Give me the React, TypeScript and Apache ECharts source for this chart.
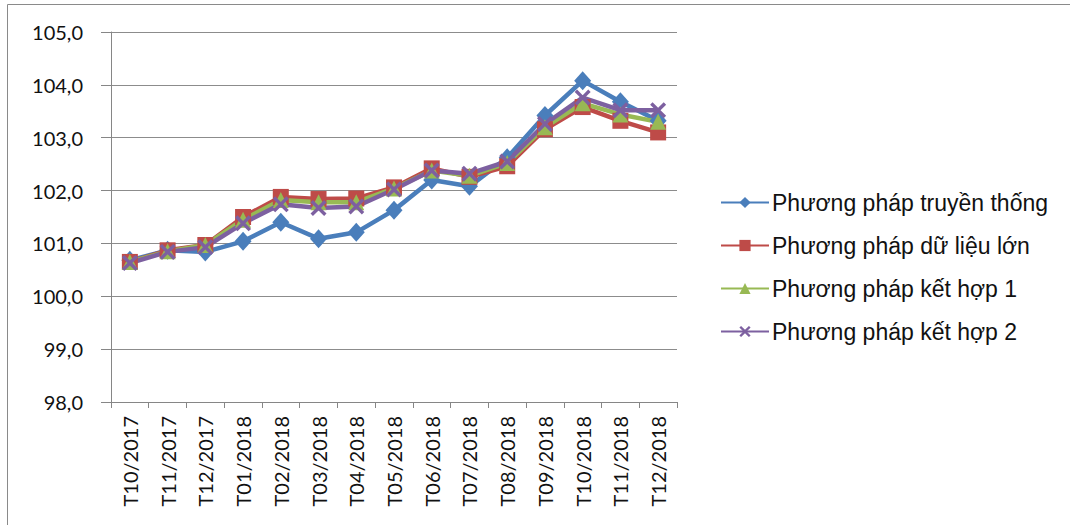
import React, { useEffect, useRef } from "react";
import * as echarts from "echarts";

const categories = [
  "T10/2017", "T11/2017", "T12/2017", "T01/2018", "T02/2018", "T03/2018", "T04/2018",
  "T05/2018", "T06/2018", "T07/2018", "T08/2018", "T09/2018", "T10/2018", "T11/2018", "T12/2018",
];

const truyenThong = [100.68, 100.87, 100.84, 101.04, 101.4, 101.09, 101.21, 101.63, 102.2, 102.08, 102.62, 103.42, 104.08, 103.68, 103.32];
const duLieuLon = [100.65, 100.87, 100.97, 101.5, 101.88, 101.84, 101.85, 102.06, 102.42, 102.26, 102.46, 103.16, 103.58, 103.32, 103.1];
const ketHop1 = [100.65, 100.85, 100.97, 101.45, 101.82, 101.78, 101.78, 102.04, 102.38, 102.28, 102.52, 103.2, 103.65, 103.44, 103.3];
const ketHop2 = [100.63, 100.84, 100.93, 101.38, 101.74, 101.67, 101.7, 102.02, 102.38, 102.32, 102.55, 103.26, 103.76, 103.52, 103.52];

const seriesNames = [
  "Phương pháp truyền thống",
  "Phương pháp dữ liệu lớn",
  "Phương pháp kết hợp 1",
  "Phương pháp kết hợp 2",
];

const yTicks = { min: 98, max: 105, interval: 1 };

const crossPath =
  "path://M1.5,0 L5,3.5 L8.5,0 L10,1.5 L6.5,5 L10,8.5 L8.5,10 L5,6.5 L1.5,10 L0,8.5 L3.5,5 L0,1.5 Z";

export default function App() {
  const ref = useRef<HTMLDivElement>(null);

  useEffect(() => {
    if (!ref.current) return;
    const chart = echarts.init(ref.current, undefined, { renderer: "svg" });
    const mk = (name: string, data: number[], color: string, symbol: string, size: number | number[]) => ({
      name,
      type: "line",
      data,
      symbol,
      symbolSize: size,
      lineStyle: { color, width: 4.5 },
      itemStyle: { color, borderWidth: 0 },
      emphasis: { disabled: true },
    });
    chart.setOption({
      animation: false,
      graphic: [
        {
          type: "polyline",
          shape: { points: [[7.5, 600], [7.5, 4.5], [1100, 4.5]] },
          style: { stroke: "#8a8a8a", lineWidth: 1, fill: "none" },
          silent: true,
        },
      ],
      grid: { left: 111, right: 393, top: 32, bottom: 123, containLabel: false },
      legend: {
        orient: "vertical",
        left: 715,
        top: 186,
        itemWidth: 48,
        itemHeight: 14,
        itemGap: 20,
        textStyle: { fontFamily: "Liberation Sans", fontSize: 23, color: "#111", padding: [0, 0, 0, -2] },
        data: seriesNames,
      },
      xAxis: {
        type: "category",
        data: categories,
        boundaryGap: true,
        axisLine: { lineStyle: { color: "#868686", width: 1 } },
        axisTick: { show: true, length: 6, inside: false, lineStyle: { color: "#868686" } },
        axisLabel: {
          rotate: 90,
          interval: 0,
          margin: 14,
          fontFamily: "Lato",
          fontSize: 20,
          color: "#111",
        },
      },
      yAxis: {
        type: "value",
        min: yTicks.min,
        max: yTicks.max,
        interval: yTicks.interval,
        axisLine: { show: true, lineStyle: { color: "#868686", width: 1 } },
        axisTick: { show: true, length: 10, lineStyle: { color: "#868686" } },
        splitLine: { show: true, lineStyle: { color: "#8c8c8c", width: 1 } },
        axisLabel: {
          margin: 28,
          fontFamily: "Lato",
          fontSize: 20,
          color: "#111",
          formatter: (v: number) => v.toFixed(1).replace(".", ","),
        },
      },
      series: [
        mk(seriesNames[0], truyenThong, "#4A7EBB", "diamond", [17, 19]),
        mk(seriesNames[1], duLieuLon, "#BE4B48", "rect", 16),
        mk(seriesNames[2], ketHop1, "#98B954", "triangle", 16),
        mk(seriesNames[3], ketHop2, "#7D60A0", crossPath, 16),
      ],
    });
    return () => chart.dispose();
  }, []);

  return (
    <div
      ref={ref}
      style={{ position: "absolute", left: 0, top: 0, width: 1070, height: 525, background: "#fff" }}
    />
  );
}
